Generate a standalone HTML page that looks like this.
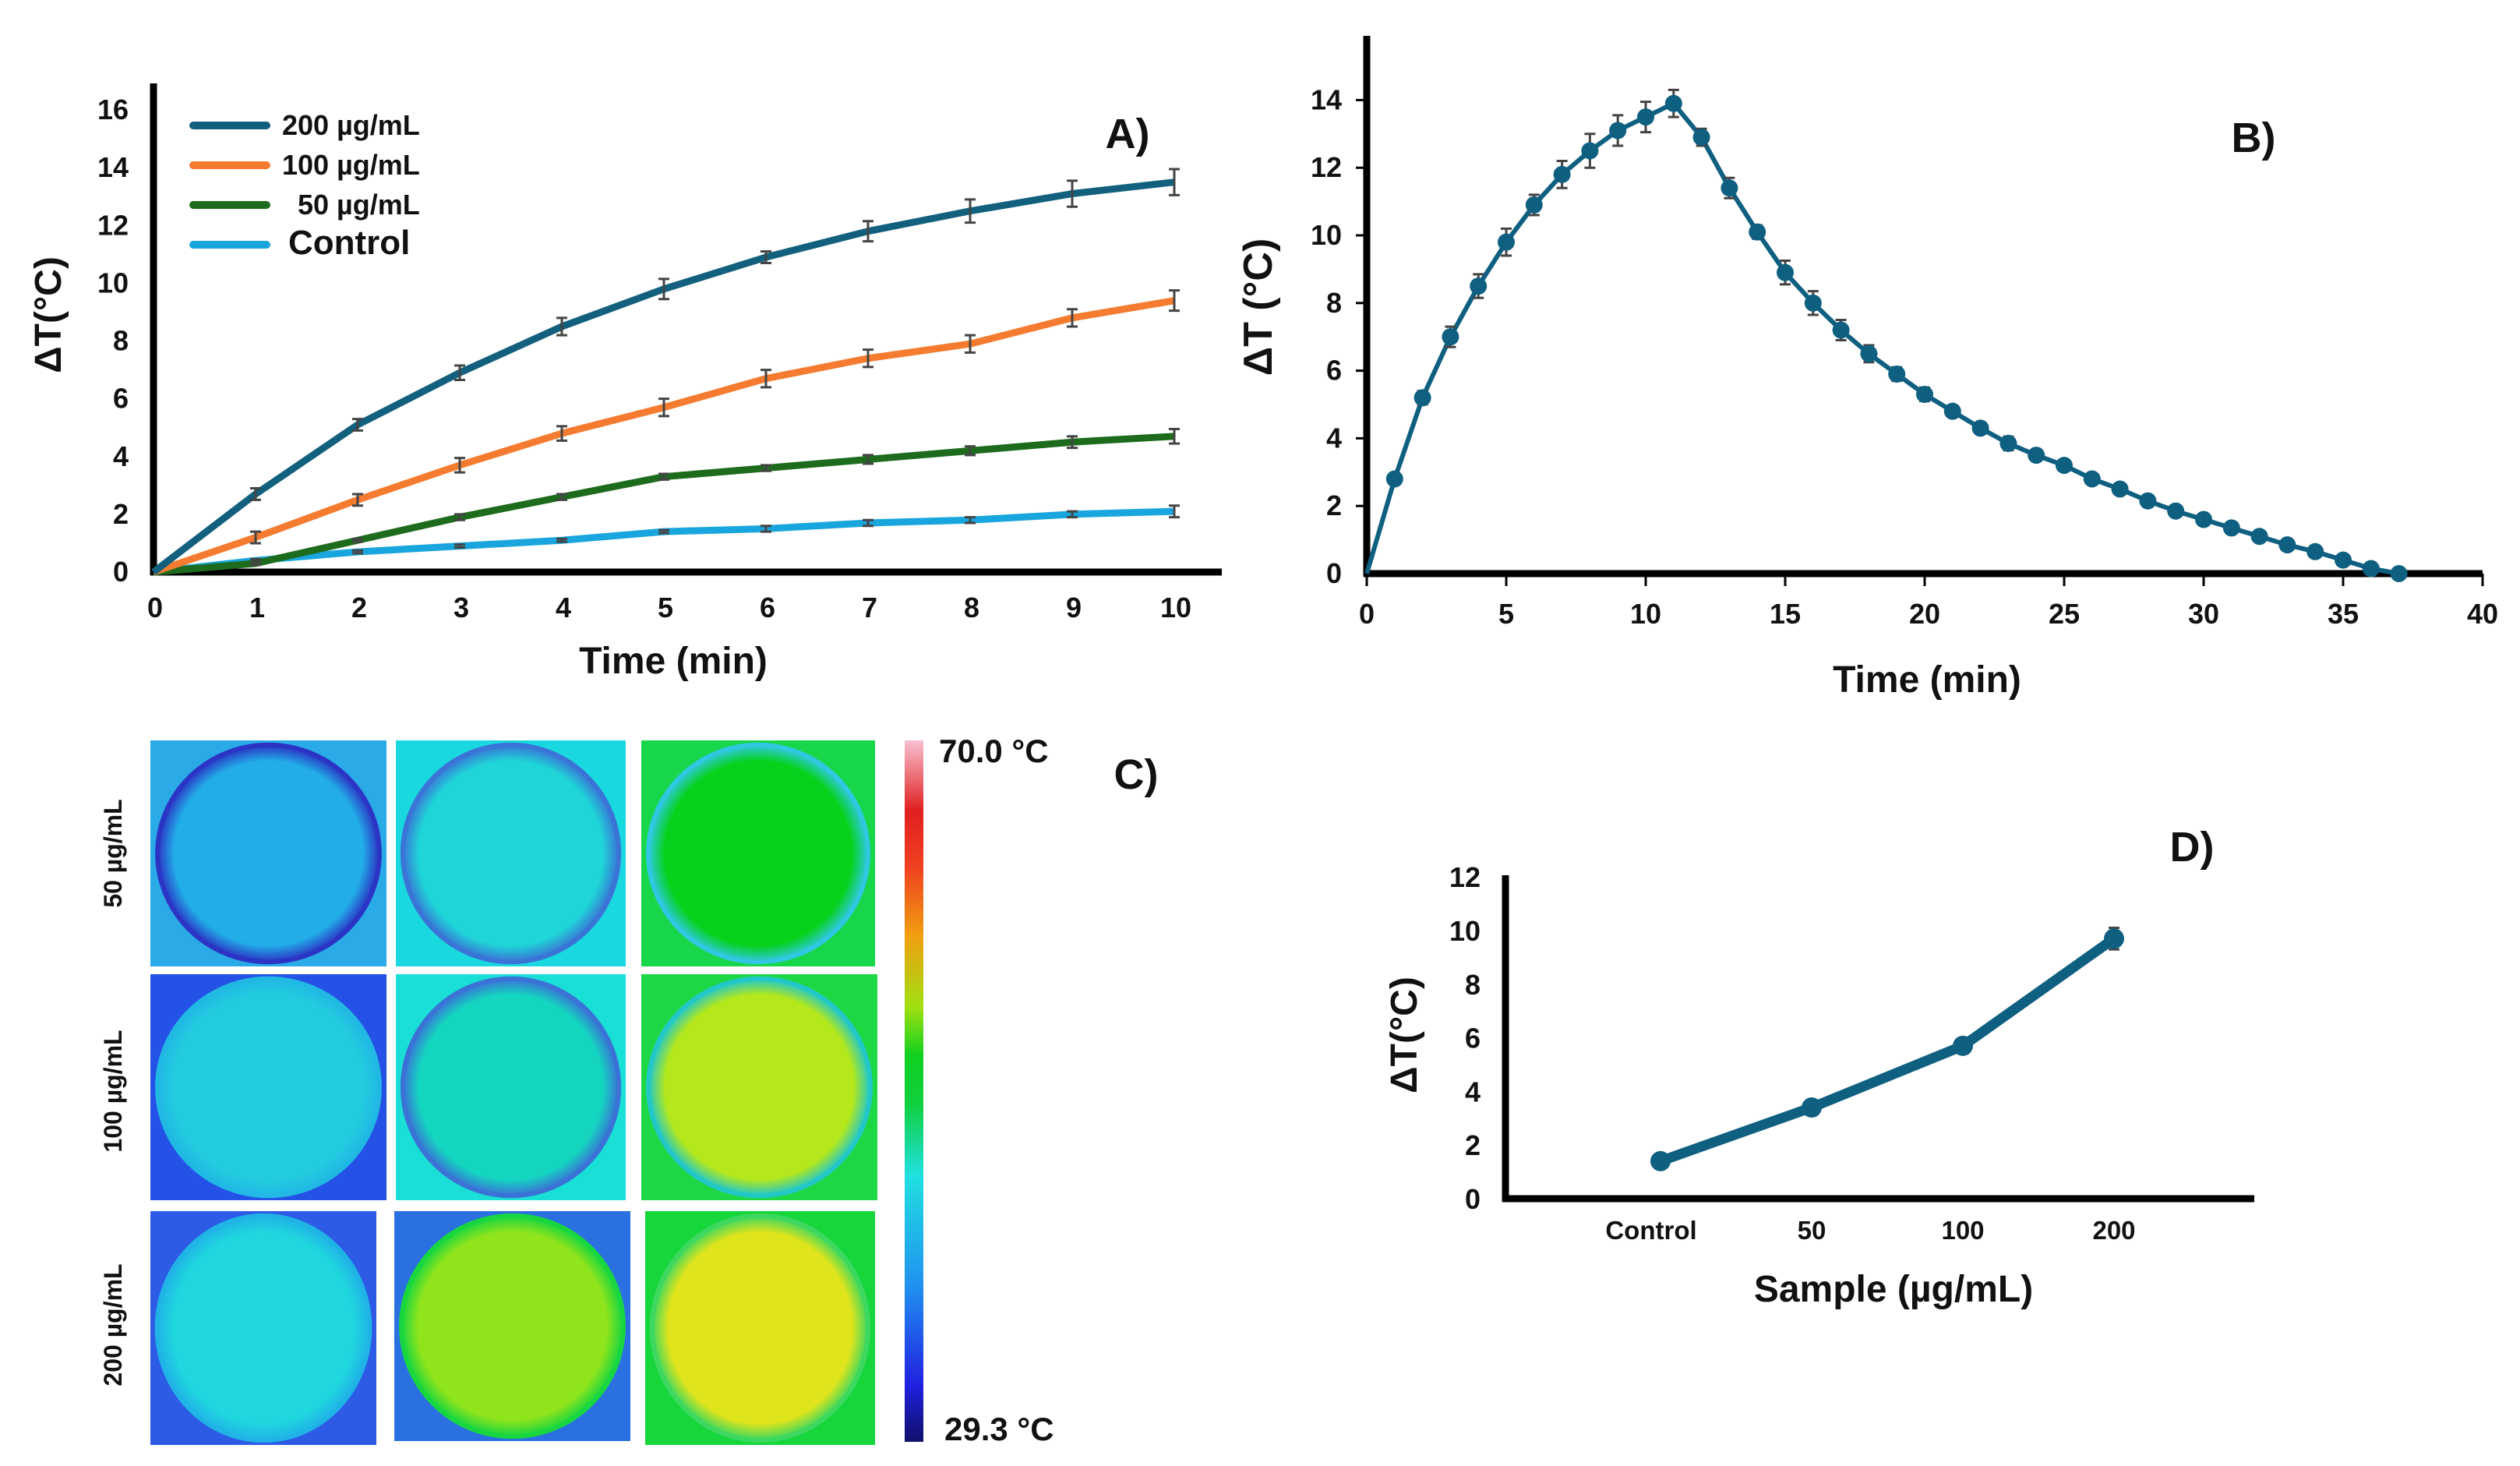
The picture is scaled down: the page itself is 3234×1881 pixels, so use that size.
<!DOCTYPE html>
<html><head><meta charset="utf-8"><style>
html,body{margin:0;padding:0;background:#fff;}
svg{display:block;}
text{font-family:"Liberation Sans Narrow","Liberation Sans",sans-serif;font-weight:bold;fill:#111;white-space:pre;}
</style></head><body>
<svg id="fig" width="3234" height="1881" viewBox="0 0 3234 1881" xmlns="http://www.w3.org/2000/svg">
<g id="pa"></g>
<g id="pb"></g>
<g id="pc"></g>
<g id="pd"></g>
</svg>
<script>
// ---- Panel A data ----
const aTimes=[0,1,2,3,4,5,6,7,8,9,10];
const a200=[0,2.7,5.1,6.9,8.5,9.8,10.9,11.8,12.5,13.1,13.5];
const a100=[0,1.2,2.5,3.7,4.8,5.7,6.7,7.4,7.9,8.8,9.4];
const a50=[0,0.3,1.1,1.9,2.6,3.3,3.6,3.9,4.2,4.5,4.7];
const aCtrl=[0,0.4,0.7,0.9,1.1,1.4,1.5,1.7,1.8,2.0,2.1];
const a200Err=[0,0.2,0.2,0.25,0.3,0.35,0.2,0.35,0.4,0.45,0.45];
const a100Err=[0,0.2,0.2,0.25,0.25,0.3,0.3,0.3,0.3,0.3,0.35];
const a50Err=[0,0.05,0.05,0.1,0.1,0.1,0.1,0.15,0.15,0.2,0.25];
const aCtrlErr=[0,0.05,0.05,0.05,0.05,0.05,0.1,0.1,0.1,0.1,0.2];
const aYTicks=[0,2,4,6,8,10,12,14,16];
const aLegend=["200 µg/mL","100 µg/mL","  50 µg/mL","Control"];
// ---- Panel B data ----
const bTimes=[0,1,2,3,4,5,6,7,8,9,10,11,12,13,14,15,16,17,18,19,20,21,22,23,24,25,26,27,28,29,30,31,32,33,34,35,36,37];
const bVals=[0,2.8,5.2,7.0,8.5,9.8,10.9,11.8,12.5,13.1,13.5,13.9,12.9,11.4,10.1,8.9,8.0,7.2,6.5,5.9,5.3,4.8,4.3,3.85,3.5,3.2,2.8,2.5,2.15,1.85,1.6,1.35,1.1,0.85,0.65,0.4,0.15,0];
const bErr=[0,0.1,0.2,0.3,0.35,0.4,0.3,0.4,0.5,0.45,0.45,0.4,0.25,0.3,0.2,0.35,0.35,0.3,0.25,0.2,0.2,0.15,0.15,0.2,0.15,0.15,0.1,0.1,0.1,0.1,0.1,0.1,0.1,0.1,0.1,0.1,0.1,0];
const bXTicks=[0,5,10,15,20,25,30,35,40];
const bYTicks=[0,2,4,6,8,10,12,14];
// ---- Panel D data ----
const dCats=["Control","50","100","200"];
const dVals=[1.4,3.4,5.7,9.7];
const dErr=[0.1,0.15,0.2,0.4];
const dYTicks=[0,2,4,6,8,10,12];
// ---- Panel C heatmap labels ----
const cRows=["50 µg/mL","100 µg/mL","200 µg/mL"];

const NS="http://www.w3.org/2000/svg";
function mk(p,tag,at,txt){const e=document.createElementNS(NS,tag);for(const k in at)e.setAttribute(k,at[k]);if(txt!==undefined)e.textContent=txt;p.appendChild(e);return e;}

// ===== Panel A =====
(function(){
const g=document.getElementById('pa');
const xA=t=>197+t*131, yA=v=>734-v*37.06;
const ax=mk(g,'line',{x1:197,y1:107,x2:197,y2:738,stroke:'#000','stroke-width':9});


const bx=mk(g,'line',{x1:193,y1:734,x2:1568,y2:734,stroke:'#000','stroke-width':9});


aYTicks.forEach(v=>{const t=mk(g,'text',{x:165,y:yA(v)+12,'text-anchor':'end','font-size':36},v);

});
aTimes.forEach(v=>{const t=mk(g,'text',{x:xA(v)+2,y:792,'text-anchor':'middle','font-size':36},v);

});
const xt=mk(g,'text',{x:864,y:864,'text-anchor':'middle','font-size':48},'Time (min)');


const yt=mk(g,'text',{x:0,y:0,'text-anchor':'middle','font-size':48,transform:'translate(78,404) rotate(-90)'},'ΔT(°C)');


const pl=mk(g,'text',{x:1447,y:190,'text-anchor':'middle','font-size':54},'A)');


const series=[[aCtrl,aCtrlErr,'#19a6de'],[a50,a50Err,'#1d6b1d'],[a100,a100Err,'#f57b30'],[a200,a200Err,'#12607e']];
const names=['control','50','100','200'];
series.forEach((s,i)=>{
 const pts=aTimes.map((t,j)=>xA(t)+','+yA(s[0][j])).join(' ');
 const l=mk(g,'polyline',{points:pts,fill:'none',stroke:s[2],'stroke-width':9,'stroke-linejoin':'round'});
 
 
});
series.forEach((s,i)=>{
 aTimes.forEach((t,j)=>{ if(j===0)return;
  const x=xA(t),y1=yA(s[0][j]+s[1][j]),y2=yA(s[0][j]-s[1][j]);
  const e=mk(g,'path',{d:`M${x},${y1}V${y2}M${x-7},${y1}H${x+7}M${x-7},${y2}H${x+7}`,stroke:'#444','stroke-width':3,fill:'none'});
  
  
 });
});
const lc=['#12607e','#f57b30','#1d6b1d','#19a6de'];
aLegend.forEach((n,i)=>{const y=161+i*51;
 const l=mk(g,'line',{x1:248,y1:y,x2:342,y2:y,stroke:lc[i],'stroke-width':10,'stroke-linecap':'round'});
 
 
 const t=mk(g,'text',{x:i==3?370:362,y:y+12,'font-size':i==3?44:36},n);
 
 
});
})();

// ===== Panel B =====
(function(){
const g=document.getElementById('pb');
const xB=t=>1754+t*35.8, yB=v=>736-v*43.4;
const ax=mk(g,'line',{x1:1754,y1:46,x2:1754,y2:740,stroke:'#000','stroke-width':9});


const bx=mk(g,'line',{x1:1750,y1:736,x2:3186,y2:736,stroke:'#000','stroke-width':9});


bYTicks.forEach(v=>{const t=mk(g,'text',{x:1722,y:yB(v)+12,'text-anchor':'end','font-size':36},v);


if(v>0){const k=mk(g,'line',{x1:1740,y1:yB(v),x2:1754,y2:yB(v),stroke:'#000','stroke-width':3});

}});
bXTicks.forEach(v=>{const t=mk(g,'text',{x:xB(v),y:800,'text-anchor':'middle','font-size':36},v);


const k=mk(g,'line',{x1:xB(v),y1:736,x2:xB(v),y2:752,stroke:'#000','stroke-width':3});

});
const xt=mk(g,'text',{x:2473,y:888,'text-anchor':'middle','font-size':48},'Time (min)');


const yt=mk(g,'text',{x:0,y:0,'text-anchor':'middle','font-size':52,transform:'translate(1632,394) rotate(-90)'},'ΔT (°C)');


const pl=mk(g,'text',{x:2892,y:195,'text-anchor':'middle','font-size':54},'B)');


const pts=bTimes.map((t,j)=>xB(t)+','+yB(bVals[j])).join(' ');
const l=mk(g,'polyline',{points:pts,fill:'none',stroke:'#0e5f80','stroke-width':6});


bTimes.forEach((t,j)=>{const x=xB(t),v=bVals[j];
 if(bErr[j]>0){const y1=yB(v+bErr[j]),y2=yB(v-bErr[j]);
 const e=mk(g,'path',{d:`M${x},${y1}V${y2}M${x-7},${y1}H${x+7}M${x-7},${y2}H${x+7}`,stroke:'#444','stroke-width':3,fill:'none'});
 
 }
 if(j>0){const c=mk(g,'circle',{cx:x,cy:yB(v),r:11,fill:'#0e5f80'});
 
 }
});
})();

// ===== Panel C =====
(function(){
const g=document.getElementById('pc');
const defs=mk(g,'defs',{});
const cells=[
 [[193,950,303,290],'#2aaae6','#22ade8','#2b34c4'],
 [[508,950,295,290],'#1ad8df','#1fd5d8','#3a74d6'],
 [[823,950,300,290],'#18d64a','#06d21c','#2fc8e0'],
 [[193,1250,303,290],'#2452e6','#22ccdf','#22b8e4'],
 [[508,1250,295,290],'#1adfd6','#14d6c0','#3a72d6'],
 [[823,1250,303,290],'#1ed744','#b4e81c','#22c8c8'],
 [[193,1554,290,300],'#2d5be6','#20d6df','#20b4e6'],
 [[506,1554,303,295],'#2a70e0','#90e41c','#18d640'],
 [[828,1554,295,300],'#16d63c','#e0e41c','#3cd860']
];
cells.forEach((c,i)=>{const [x,y,w,h]=c[0];
 const id='rg'+i;
 const rg=mk(defs,'radialGradient',{id:id});
 mk(rg,'stop',{offset:'0%','stop-color':c[2]});
 mk(rg,'stop',{offset:'85%','stop-color':c[2]});
 mk(rg,'stop',{offset:'100%','stop-color':c[3]});
 const r=mk(g,'rect',{x:x,y:y,width:w,height:h,fill:c[1]});
 
 
 const e=mk(g,'ellipse',{cx:x+w/2,cy:y+h/2,rx:w*0.47,ry:h*0.48,fill:'url(#'+id+')',stroke:c[3],'stroke-width':6});
 
 
});
cRows.forEach((n,i)=>{const cy=[1095,1400,1700][i];
 const t=mk(g,'text',{x:0,y:0,'text-anchor':'middle','font-size':32,transform:`translate(156,${cy}) rotate(-90)`,'font-family':'Liberation Sans'},n);
 
 });
const lg=mk(defs,'linearGradient',{id:'cbar',x1:0,y1:1,x2:0,y2:0});
[['0','#10106a'],['0.08','#2020e0'],['0.22','#2090f0'],['0.38','#20e0e0'],['0.48','#10d040'],['0.55','#10d020'],['0.62','#a0e010'],['0.72','#f0a010'],['0.82','#f04020'],['0.9','#e02020'],['1','#f8c0d0']].forEach(s=>mk(lg,'stop',{offset:s[0],'stop-color':s[1]}));
const cb=mk(g,'rect',{x:1161,y:950,width:24,height:900,fill:'url(#cbar)'});


const t1=mk(g,'text',{x:1205,y:978,'font-size':42},'70.0 °C');


const t2=mk(g,'text',{x:1212,y:1848,'font-size':42},'29.3 °C');


const pl=mk(g,'text',{x:1458,y:1012,'text-anchor':'middle','font-size':54},'C)');


})();

// ===== Panel D =====
(function(){
const g=document.getElementById('pd');
const xD=i=>2131+i*194, yD=v=>1538-v*34.4;
const ax=mk(g,'line',{x1:1932,y1:1123,x2:1932,y2:1542,stroke:'#000','stroke-width':9});


const bx=mk(g,'line',{x1:1928,y1:1538,x2:2893,y2:1538,stroke:'#000','stroke-width':9});


dYTicks.forEach(v=>{const t=mk(g,'text',{x:1900,y:yD(v)+13,'text-anchor':'end','font-size':36},v);

});
dCats.forEach((c,i)=>{const t=mk(g,'text',{x:xD(i)-12*(i==0),y:1590,'text-anchor':'middle','font-size':33,'font-family':'Liberation Sans'},c);

});
const xt=mk(g,'text',{x:2430,y:1670,'text-anchor':'middle','font-size':48},'Sample (µg/mL)');


const yt=mk(g,'text',{x:0,y:0,'text-anchor':'middle','font-size':48,transform:'translate(1818,1328) rotate(-90)'},'ΔT(°C)');


const pl=mk(g,'text',{x:2813,y:1105,'text-anchor':'middle','font-size':54},'D)');


const pts=dCats.map((c,i)=>xD(i)+','+yD(dVals[i])).join(' ');
const l=mk(g,'polyline',{points:pts,fill:'none',stroke:'#0e5f80','stroke-width':13,'stroke-linejoin':'round'});


dCats.forEach((c,i)=>{const x=xD(i),v=dVals[i],y1=yD(v+dErr[i]),y2=yD(v-dErr[i]);
 const e=mk(g,'path',{d:`M${x},${y1}V${y2}M${x-7},${y1}H${x+7}M${x-7},${y2}H${x+7}`,stroke:'#444','stroke-width':3,fill:'none'});
 
 
 const p=mk(g,'circle',{cx:x,cy:yD(v),r:13,fill:'#0e5f80'});
 
 
});
})();
</script>
</body></html>
